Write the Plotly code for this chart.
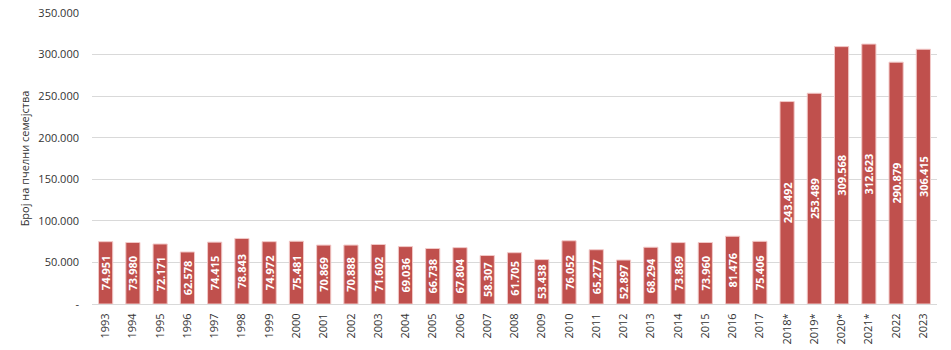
import plotly.graph_objects as go

years = ["1993", "1994", "1995", "1996", "1997", "1998", "1999", "2000", "2001", "2002",
         "2003", "2004", "2005", "2006", "2007", "2008", "2009", "2010", "2011", "2012",
         "2013", "2014", "2015", "2016", "2017", "2018*", "2019*", "2020*", "2021*", "2022", "2023"]
colonies = [74951, 73980, 72171, 62578, 74415, 78843, 74972, 75481, 70869, 70888,
            71602, 69036, 66738, 67804, 58307, 61705, 53438, 76052, 65277, 52897,
            68294, 73869, 73960, 81476, 75406, 243492, 253489, 309568, 312623, 290879, 306415]
tick_vals = [0, 50000, 100000, 150000, 200000, 250000, 300000, 350000]
tick_text = ["-", "50.000", "100.000", "150.000", "200.000", "250.000", "300.000", "350.000"]

font_family = "Open Sans, Liberation Sans, sans-serif"

fig = go.Figure(go.Bar(
    x=years,
    y=colonies,
    marker=dict(color="#C0504D", line=dict(color="#F2C9C8", width=1)),
    texttemplate="%{y:,}",
    textposition="inside",
    insidetextanchor="middle",
    textangle=-90,
    constraintext="none",
    textfont=dict(color="white", size=11, family=font_family, weight="bold"),
    cliponaxis=False,
))

fig.update_layout(
    width=951, height=350,
    margin=dict(l=92, r=14, t=13, b=46),
    plot_bgcolor="white", paper_bgcolor="white",
    separators=",.",
    bargap=0.48,
    showlegend=False,
    font=dict(family=font_family, size=11, color="#333333"),
)
fig.update_xaxes(
    type="category", tickangle=-90, showgrid=False, automargin=False,
    showline=True, linecolor="#d9d9d9", linewidth=1,
    tickfont=dict(size=11, color="#333333"), ticks="", ticklabelstandoff=4,
)
fig.update_yaxes(
    range=[0, 350000], tickvals=tick_vals, ticktext=tick_text, automargin=False,
    showgrid=True, gridcolor="#d9d9d9", gridwidth=1, zeroline=False,
    tickfont=dict(size=11, color="#333333"), ticks="", ticklabelstandoff=12,
    title=dict(text="Број на пчелни семејства", font=dict(size=11, color="#333333"), standoff=6),
)

fig.write_html("out.html")
